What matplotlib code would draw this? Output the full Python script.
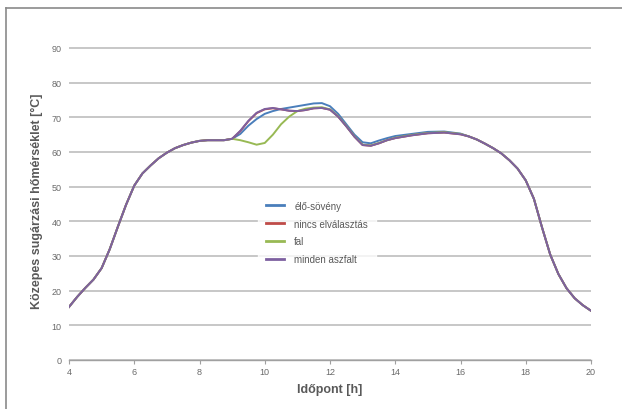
import matplotlib
matplotlib.use("Agg")
import matplotlib.pyplot as plt
from matplotlib.lines import Line2D

plt.rcParams['font.family'] = ['Liberation Sans', 'DejaVu Sans']

# ---- data ----
hours_common_a = [4, 4.25, 4.5, 4.75, 5, 5.25, 5.5, 5.75, 6, 6.25, 6.5, 6.75,
                  7, 7.25, 7.5, 7.75, 8, 8.25, 8.5, 8.75, 9]
temps_common_a = [15.3, 18.2, 20.8, 23.2, 26.5, 32.0, 38.5, 44.8, 50.3, 53.8, 56.1, 58.2,
                  59.8, 61.1, 62.0, 62.7, 63.2, 63.4, 63.4, 63.4, 63.8]

hours_mid = [9.25, 9.5, 9.75, 10, 10.25, 10.5, 10.75, 11, 11.25, 11.5, 11.75, 12,
             12.25, 12.5, 12.75, 13, 13.25, 13.5, 13.75, 14, 14.5, 15, 15.5, 16]
elo_soveny_mid = [65.2, 67.6, 69.5, 71.0, 71.8, 72.4, 72.8, 73.2, 73.6, 74.0, 74.1, 73.2,
                  71.0, 68.0, 65.0, 62.8, 62.5, 63.3, 64.0, 64.6, 65.2, 65.8, 65.9, 65.3]
nincs_mid = [66.0, 68.9, 71.2, 72.3, 72.6, 72.3, 71.9, 71.8, 72.1, 72.6, 72.7, 72.2,
             70.2, 67.4, 64.4, 62.0, 61.8, 62.5, 63.4, 64.0, 64.8, 65.4, 65.6, 65.1]
fal_mid = [63.4, 62.8, 62.1, 62.6, 65.0, 68.0, 70.2, 71.8, 72.5, 72.8, 72.9, 72.3,
           70.3, 67.5, 64.5, 62.1, 61.9, 62.6, 63.4, 64.1, 64.9, 65.5, 65.7, 65.2]
minden_mid = [66.1, 69.0, 71.3, 72.4, 72.7, 72.3, 71.9, 71.8, 72.1, 72.6, 72.7, 72.2,
              70.2, 67.4, 64.4, 62.0, 61.8, 62.5, 63.4, 64.0, 64.8, 65.4, 65.6, 65.1]

hours_common_b = [16.25, 16.5, 16.75, 17, 17.25, 17.5, 17.75, 18, 18.25, 18.5, 18.75,
                  19, 19.25, 19.5, 19.75, 20]
temps_common_b = [64.5, 63.6, 62.4, 61.1, 59.6, 57.6, 55.2, 51.8, 46.5, 38.2, 30.4,
                  24.8, 20.7, 17.8, 15.8, 14.2]

series_names = ["élő-sövény", "nincs elválasztás", "fal", "minden aszfalt"]
series_mid = [elo_soveny_mid, nincs_mid, fal_mid, minden_mid]
colors = ["#4A7EBB", "#BE4B48", "#98B954", "#7D60A0"]

x_ticks = [4, 6, 8, 10, 12, 14, 16, 18, 20]
y_ticks = [0, 10, 20, 30, 40, 50, 60, 70, 80, 90]
x_label = "Időpont [h]"
y_label = "Közepes sugárzási hőmérséklet [°C]"

# ---- figure ----
fig = plt.figure(figsize=(6.22, 4.10), dpi=100)
fig.patch.set_facecolor("white")

# outer frame (left and top edges visible)
fig.add_artist(Line2D([6/622, 6/622], [0, 1 - 9/410], transform=fig.transFigure,
                      color="#8a8a8a", lw=1.2))
fig.add_artist(Line2D([6/622, 1], [1 - 9/410, 1 - 9/410], transform=fig.transFigure,
                      color="#8a8a8a", lw=1.2))

ax = fig.add_axes([69/622, 1 - 361/410, (591 - 69)/622, (92 * 3.467)/410])
ax.set_xlim(4, 20)
ax.set_ylim(0, 92)

for s in ["top", "right", "left"]:
    ax.spines[s].set_visible(False)
ax.spines["bottom"].set_color("#a0a0a0")
ax.spines["bottom"].set_linewidth(1.0)

ax.set_yticks(y_ticks)
ax.set_xticks(x_ticks)
ax.tick_params(axis="y", length=0, labelsize=6.5, labelcolor="#6a6a6a", pad=5.5)
ax.tick_params(axis="x", length=3, width=0.8, color="#a0a0a0", labelsize=6.5,
               labelcolor="#6a6a6a", pad=2, direction="out")
ax.yaxis.grid(True, color="#b8b8b8", lw=1.1)
ax.set_axisbelow(True)

for name, mid, c in zip(series_names, series_mid, colors):
    xs = hours_common_a + hours_mid + hours_common_b
    ys = temps_common_a + mid + temps_common_b
    ax.plot(xs, ys, color=c, lw=1.4, label=name, solid_joinstyle="round")

ax.set_xlabel(x_label, fontsize=9, fontweight="bold", color="#595959", labelpad=5)
ax.set_ylabel(y_label, fontsize=9, fontweight="bold", color="#595959", labelpad=6)

leg = ax.legend(loc="center", bbox_to_anchor=(0.475, 0.40), frameon=True,
                fontsize=7, handlelength=1.9, handletextpad=1.0,
                labelspacing=0.8, borderpad=0.8)
leg.get_frame().set_facecolor("white")
leg.get_frame().set_edgecolor("white")
for t in leg.get_texts():
    t.set_color("#595959")
for l in leg.get_lines():
    l.set_linewidth(2.0)

fig.savefig("out.png", dpi=100, facecolor="white")
